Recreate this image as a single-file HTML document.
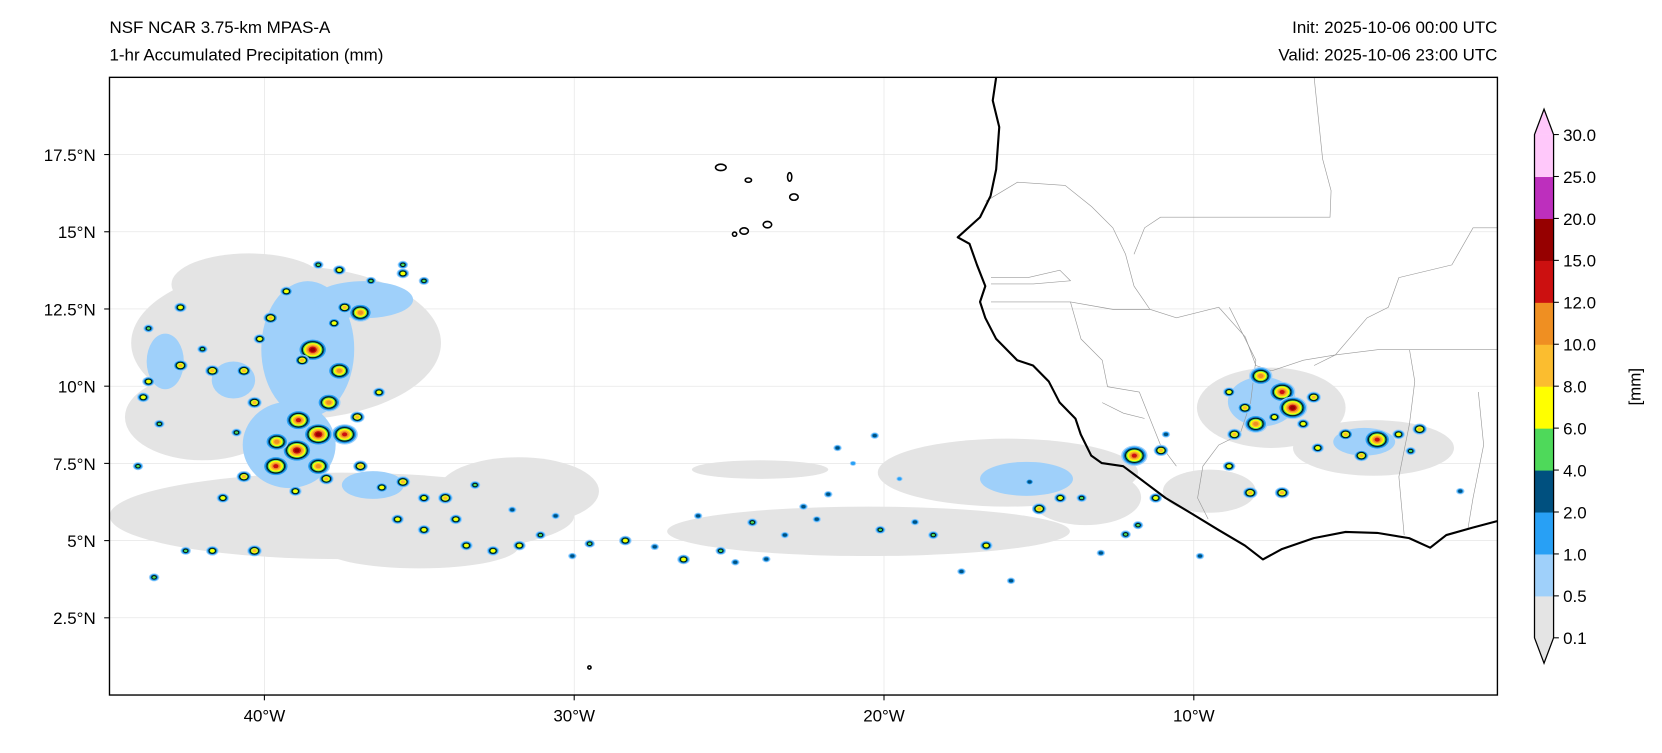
<!DOCTYPE html>
<html><head><meta charset="utf-8"><style>
body{margin:0;background:#fff;}
svg text{font-family:"Liberation Sans",sans-serif;fill:#000;}
</style></head><body>
<svg id="c" width="1662" height="748" viewBox="0 0 1568 706" xmlns="http://www.w3.org/2000/svg">
<defs><clipPath id="clip"><rect x="103" y="73" width="1310" height="583"/></clipPath></defs>
<text x="103" y="31" font-size="16">NSF NCAR 3.75-km MPAS-A</text>
<text x="103" y="57" font-size="16">1-hr Accumulated Precipitation (mm)</text>
<text x="1413" y="31" font-size="16" text-anchor="end">Init: 2025-10-06 00:00 UTC</text>
<text x="1413" y="57" font-size="16" text-anchor="end">Valid: 2025-10-06 23:00 UTC</text>
<g id="map" clip-path="url(#clip)"></g>
<rect x="103" y="73" width="1310" height="583" fill="none" stroke="#000" stroke-width="1.3"/>
<g id="axes"></g>
<g id="cbar"></g>
</svg>
<script>
const NS='http://www.w3.org/2000/svg';
// axes data
const lonTicks=[-40,-30,-20,-10];
const lonLabels=['40°W','30°W','20°W','10°W'];
const latTicks=[17.5,15,12.5,10,7.5,5,2.5];
const latLabels=['17.5°N','15°N','12.5°N','10°N','7.5°N','5°N','2.5°N'];
// colorbar data
const levels=[0.1,0.5,1.0,2.0,4.0,6.0,8.0,10.0,12.0,15.0,20.0,25.0,30.0];
const levelColors=['#e4e4e4','#9fd0fa','#28a0f5','#00507f','#4ed95a','#ffff00','#fbbd2f','#ef8f22','#cc1010','#960000','#bd2fbd','#ffc8fa'];
// coastline (lon, lat)
const coastLon=[-16.38,-16.49,-16.28,-16.38,-16.56,-16.90,-17.62,-17.24,-17.00,-16.73,-16.90,-16.73,-16.38,-15.70,-15.19,-14.68,-14.33,-13.82,-13.65,-13.31,-12.97,-12.28,-11.60,-10.91,-10.06,-9.21,-8.35,-7.77,-7.15,-6.13,-5.10,-4.08,-3.05,-2.37,-1.85,-1.00,-0.21];
const coastLat=[20.0,19.25,18.39,17.02,16.16,15.47,14.82,14.61,13.93,13.24,12.73,12.21,11.53,10.84,10.67,10.15,9.47,8.95,8.44,7.75,7.51,7.41,6.90,6.38,5.87,5.35,4.84,4.39,4.73,5.08,5.28,5.25,5.08,4.77,5.18,5.42,5.63];
// light precip areas (lon, lat, rx deg, ry deg)
const grayLon=[-39.3,-37.5,-31.8,-20.5,-24,-16.0,-13.5,-7.5,-4.2,-42,-35,-9.5,-40.5];
const grayLat=[11.4,5.8,6.6,5.3,7.3,7.2,6.4,9.3,8.0,9.0,4.8,6.6,13.3];
const grayRx=[5.0,7.5,2.6,6.5,2.2,4.2,1.8,2.4,2.6,2.5,3.2,1.5,2.5];
const grayRy=[2.5,1.4,1.1,0.8,0.3,1.1,0.9,1.3,0.9,1.4,0.7,0.7,1.0];
const blueLon=[-38.6,-39.2,-43.2,-41.0,-15.4,-7.8,-4.5,-36.5,-36.8];
const blueLat=[11.2,8.1,10.8,10.2,7.0,9.5,8.2,6.8,12.8];
const blueRx=[1.5,1.5,0.6,0.7,1.5,1.1,1.0,1.0,1.6];
const blueRy=[2.2,1.4,0.9,0.6,0.55,0.8,0.45,0.45,0.6];
// convective cells (lon, lat, max level index)
const cellLon=[-35.53,-36.56,-36.9,-37.41,-37.75,-38.44,-37.58,-38.78,-37.92,-38.26,-38.95,-37.41,-39.63,-38.26,-40.66,-41.34,-42.71,-41.68,-43.74,-43.91,-40.32,-39.8,-42.71,-40.66,-37.58,-38.26,-35.53,-34.85,-39.29,-40.15,-43.74,-43.39,-36.9,-36.21,-35.53,-34.85,-34.16,-34.85,-33.48,-32.62,-31.77,-31.09,-33.82,-35.7,-40.32,-42.54,-43.56,-44.08,-41.68,-30.06,-28.35,-26.47,-24.25,-25.27,-23.2,-22.17,-20.12,-18.41,-16.7,-14.99,-14.31,-13.62,-11.92,-11.06,-11.23,-7.84,-7.15,-6.81,-8.35,-8.69,-8.0,-6.13,-6.47,-8.86,-5.1,-4.08,-4.59,-3.39,-2.71,-8.18,-7.15,-8.86,-10.9,-15.3,-21.5,-21.0,-20.3,-19.5,-21.8,-26.0,-24.8,-17.5,-15.9,-12.2,-1.4,-9.8,-29.5,-30.6,-38.9,-39.6,-37.0,-36.3,-38.0,-39.0,-40.9,-42.0,-33.2,-32.0,-27.4,-23.8,-22.6,-19.0,-13.0,-11.8,-7.4,-6.0,-3.0];
const cellLat=[13.65,13.41,12.38,12.55,12.04,11.18,10.5,10.84,9.47,8.44,7.92,8.44,7.41,7.41,7.07,6.38,10.67,10.5,10.15,9.64,9.47,12.21,12.55,10.5,13.76,13.93,13.93,13.41,13.07,11.53,11.87,8.78,7.41,6.72,6.9,6.38,6.38,5.35,4.84,4.67,4.84,5.18,5.69,5.69,4.67,4.67,3.81,7.41,4.67,4.5,5.0,4.39,5.59,4.67,5.18,5.69,5.35,5.18,4.84,6.03,6.38,6.38,7.75,7.92,6.38,10.33,9.81,9.3,9.3,8.44,8.78,9.64,8.78,9.81,8.44,8.27,7.75,8.44,8.61,6.55,6.55,7.41,8.44,6.9,8.0,7.5,8.4,7.0,6.5,5.8,4.3,4.0,3.7,5.2,6.6,4.5,4.9,5.8,8.9,8.2,9.0,9.8,7.0,6.6,8.5,11.2,6.8,6.0,4.8,4.4,6.1,5.6,4.6,5.5,9.0,8.0,7.9];
const cellLev=[5,4,7,6,5,9,7,6,7,9,9,8,8,7,6,5,6,6,5,5,6,6,5,6,5,4,4,4,5,5,4,4,6,5,6,5,6,5,5,5,5,4,5,5,6,4,4,4,5,3,5,5,4,4,3,3,4,4,5,6,5,4,8,6,5,7,8,9,6,6,7,6,5,5,6,8,6,5,6,6,6,5,3,3,3,2,3,2,3,3,3,3,3,4,3,3,4,3,8,7,6,5,6,5,4,4,4,3,3,3,3,3,3,4,5,5,4];

const x0=103,x1=1413,y0=73,y1=656,lonMin=-45,lonMax=-0.2,latMin=0,latMax=20;
const X=lon=>x0+(lon-lonMin)/(lonMax-lonMin)*(x1-x0);
const Y=lat=>y1-(lat-latMin)/(latMax-latMin)*(y1-y0);
const sx=(x1-x0)/(lonMax-lonMin), sy=(y1-y0)/(latMax-latMin);
function mk(tag,attrs,parent){const e=document.createElementNS(NS,tag);for(const k in attrs)e.setAttribute(k,attrs[k]);parent.appendChild(e);return e;}
const map=document.getElementById('map'), axes=document.getElementById('axes'), cbar=document.getElementById('cbar');

lonTicks.forEach((v,i)=>{const l=mk('line',{x1:X(v),x2:X(v),y1:y0,y2:y1,stroke:'#e2e2e2','stroke-width':0.6},map);

});
latTicks.forEach((v,i)=>{const l=mk('line',{x1:x0,x2:x1,y1:Y(v),y2:Y(v),stroke:'#e2e2e2','stroke-width':0.6},map);

});

grayLon.forEach((v,i)=>{const e=mk('ellipse',{cx:X(v),cy:Y(grayLat[i]),rx:grayRx[i]*sx,ry:grayRy[i]*sy,fill:levelColors[0]},map);

});
blueLon.forEach((v,i)=>{const e=mk('ellipse',{cx:X(v),cy:Y(blueLat[i]),rx:blueRx[i]*sx,ry:blueRy[i]*sy,fill:levelColors[1]},map);

});

const borders=['M1240,73 L1248,150 L1256,180 L1255,205 L1095,205 L1080,215 L1070,240',
'M930,190 L960,172 L1005,175 L1030,195 L1050,215 L1062,240 L1070,270 L1085,292',
'M935,262 L970,262 L1000,255 L1010,265 L975,268 L935,268',
'M935,285 L1010,285 L1050,292 L1085,292 L1110,300 L1150,290 L1175,318 L1185,345 L1200,350 L1230,340 L1260,335 L1290,300 L1310,290 L1320,262 L1370,250 L1390,215 L1413,215',
'M1010,285 L1020,320 L1040,340 L1045,365 L1075,370 L1085,395 L1095,420 L1110,440',
'M1040,380 L1060,390 L1080,395',
'M1160,290 L1185,340 L1180,380 L1170,410 L1150,420 L1135,440 L1130,470 L1140,490',
'M1240,345 L1260,335 L1300,330 L1340,330 L1413,330',
'M1330,330 L1335,360 L1330,400 L1320,450 L1325,505',
'M1395,370 L1400,420 L1390,470 L1385,500'];
borders.forEach(d=>{const p=mk('path',{d:d,fill:'none',stroke:'#999','stroke-width':0.6},map);

});

cellLon.forEach((v,i)=>{const g=mk('g',{},map);


const L=cellLev[i],cx=X(v),cy=Y(cellLat[i]);const base=L>=7?1.1:0.75;
for(let k=1;k<=L&&k<levelColors.length;k++){const r=(L-k+1)*base+0.8;
mk('ellipse',{cx:cx,cy:cy,rx:r*1.3,ry:r,fill:levelColors[k],stroke:k===4?'#000':'none','stroke-width':0.7},g);}});

const pts=coastLon.map((v,i)=>X(v)+','+Y(coastLat[i])).join(' ');
const cl=mk('polyline',{points:pts,fill:'none',stroke:'#000','stroke-width':2,'stroke-linejoin':'round'},map);


[[680,158,5,3],[706,170,3,2],[745,167,2,4],[749,186,4,3],[693,221,2,2],[702,218,4,3],[724,212,4,3],[556,630,1.5,1.5]].forEach(a=>{
const e=mk('ellipse',{cx:a[0],cy:a[1],rx:a[2],ry:a[3],fill:'none',stroke:'#000','stroke-width':1.5},map);

});

lonTicks.forEach((v,i)=>{mk('line',{x1:X(v),x2:X(v),y1:y1,y2:y1+5,stroke:'#000'},axes);
const t=mk('text',{x:X(v),y:y1+25,'font-size':16,'text-anchor':'middle'},axes);t.textContent=lonLabels[i];

});
latTicks.forEach((v,i)=>{mk('line',{x1:x0-5,x2:x0,y1:Y(v),y2:Y(v),stroke:'#000'},axes);
const t=mk('text',{x:x0-13,y:Y(v)+6,'font-size':16,'text-anchor':'end'},axes);t.textContent=latLabels[i];

});

const cbX=1448,cbW=18,cbTop=127,cbBot=602,n=levels.length-1,step=(cbBot-cbTop)/n;
const CY=i=>cbBot-i*step;
for(let i=0;i<n;i++){const r=mk('rect',{x:cbX,y:CY(i+1),width:cbW,height:step+0.5,fill:levelColors[i]},cbar);

}
mk('polygon',{points:`${cbX},${cbTop} ${cbX+cbW/2},${cbTop-24} ${cbX+cbW},${cbTop}`,fill:levelColors[n-1]},cbar);
mk('polygon',{points:`${cbX},${cbBot} ${cbX+cbW/2},${cbBot+24} ${cbX+cbW},${cbBot}`,fill:levelColors[0]},cbar);
mk('path',{d:`M${cbX},${cbTop} L${cbX+cbW/2},${cbTop-24} L${cbX+cbW},${cbTop} L${cbX+cbW},${cbBot} L${cbX+cbW/2},${cbBot+24} L${cbX},${cbBot} Z`,fill:'none',stroke:'#000','stroke-width':1.2},cbar);
levels.forEach((v,i)=>{mk('line',{x1:cbX+cbW,x2:cbX+cbW+5,y1:CY(i),y2:CY(i),stroke:'#000'},cbar);
const t=mk('text',{x:cbX+cbW+9,y:CY(i)+6,'font-size':16},cbar);t.textContent=v.toFixed(1);

});
const u=mk('text',{x:1548,y:365,'font-size':16,'text-anchor':'middle',transform:'rotate(-90 1548 365)'},cbar);u.textContent='[mm]';


</script>
</body></html>
